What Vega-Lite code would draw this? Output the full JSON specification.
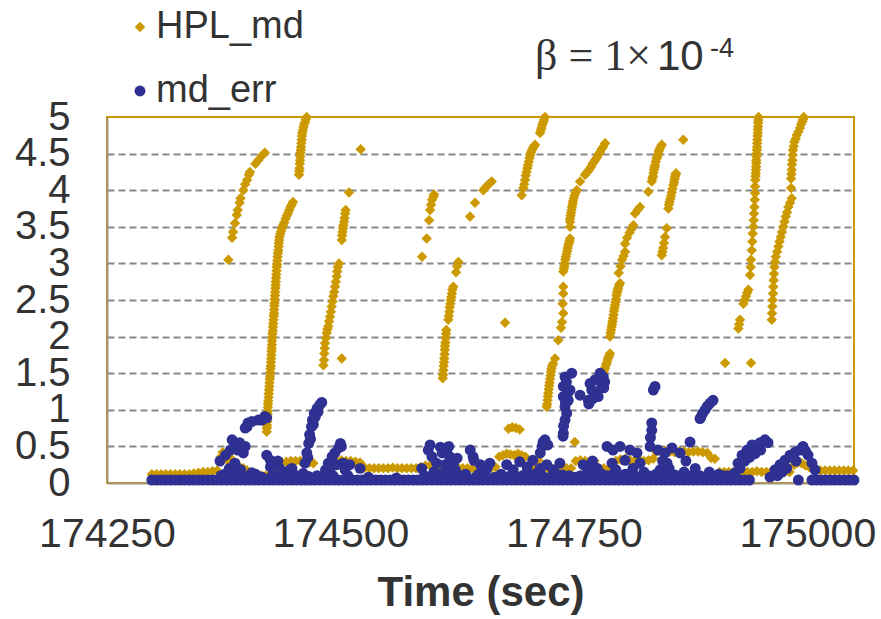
{
"$schema": "https://vega.github.io/schema/vega-lite/v6.json",
"width": 747, "height": 366,
"autosize": {"type": "none"},
"padding": {"left": 107, "top": 117, "right": 27, "bottom": 136},
"background": "white",
"config": {"view": {"stroke": "#CC9900", "strokeWidth": 2}, "font": "Liberation Sans"},
"encoding": {
 "x": {"field": "t", "type": "quantitative", "title": "Time (sec)",
  "scale": {"domain": [174250, 175050], "nice": false, "zero": false},
  "axis": {"values": [174250, 174500, 174750, 175000], "format": "d", "grid": false, "ticks": false, "tickSize": 0,
   "labelFont": "Liberation Sans", "labelFontSize": 41, "labelColor": "#333333", "labelPadding": 31, "labelFlush": false, "labelOverlap": false,
   "domainColor": "#A0957A", "domainWidth": 2,
   "titleFont": "Liberation Sans", "titleFontSize": 42, "titleFontWeight": "bold", "titleColor": "#333333", "titlePadding": 18}},
 "y": {"field": "value", "type": "quantitative", "title": null,
  "scale": {"domain": [0, 5], "nice": false, "zero": true},
  "axis": {"values": [0, 0.5, 1, 1.5, 2, 2.5, 3, 3.5, 4, 4.5, 5], "format": "~g", "ticks": false, "tickSize": 0,
   "labelFont": "Liberation Sans", "labelFontSize": 40, "labelColor": "#333333", "labelPadding": 37, "labelOverlap": false,
   "domainColor": "#A0957A", "domainWidth": 2,
   "grid": true, "gridColor": "#888888", "gridWidth": 2, "gridDash": [7, 4],
   "gridOpacity": {"condition": {"test": "datum.value == 0 || datum.value == 5", "value": 0}, "value": 1}}}
},
"layer": [
{
 "data": {"values": [
{"t":174380,"HPL_md":3.05},{"t":174384,"HPL_md":3.35},{"t":174385,"HPL_md":3.43},{"t":174387,"HPL_md":3.55},{"t":174389,"HPL_md":3.66},{"t":174390,"HPL_md":3.73},{"t":174392,"HPL_md":3.83},{"t":174393,"HPL_md":3.89},{"t":174396,"HPL_md":4.0},{"t":174398,"HPL_md":4.08},{"t":174400,"HPL_md":4.14},{"t":174402,"HPL_md":4.21},{"t":174403,"HPL_md":4.25},{"t":174409,"HPL_md":4.36},{"t":174412,"HPL_md":4.41},{"t":174416,"HPL_md":4.47},{"t":174419,"HPL_md":4.51},
{"t":174421.0,"HPL_md":0.70},{"t":174421.2,"HPL_md":0.75},{"t":174421.4,"HPL_md":0.79},{"t":174421.6,"HPL_md":0.84},{"t":174421.7,"HPL_md":0.89},{"t":174421.9,"HPL_md":0.94},{"t":174422.1,"HPL_md":0.98},{"t":174422.3,"HPL_md":1.03},{"t":174422.4,"HPL_md":1.08},{"t":174422.7,"HPL_md":1.12},{"t":174423.0,"HPL_md":1.17},{"t":174423.3,"HPL_md":1.22},{"t":174423.5,"HPL_md":1.27},{"t":174423.8,"HPL_md":1.32},{"t":174424.0,"HPL_md":1.37},{"t":174424.3,"HPL_md":1.42},{"t":174424.6,"HPL_md":1.46},{"t":174424.9,"HPL_md":1.51},{"t":174425.1,"HPL_md":1.56},{"t":174425.4,"HPL_md":1.60},{"t":174425.6,"HPL_md":1.65},{"t":174425.8,"HPL_md":1.70},{"t":174426.0,"HPL_md":1.75},{"t":174426.2,"HPL_md":1.80},{"t":174426.4,"HPL_md":1.84},{"t":174426.6,"HPL_md":1.89},{"t":174426.7,"HPL_md":1.94},{"t":174427.0,"HPL_md":1.99},{"t":174427.2,"HPL_md":2.04},{"t":174427.5,"HPL_md":2.08},{"t":174427.8,"HPL_md":2.13},{"t":174428.0,"HPL_md":2.18},{"t":174428.3,"HPL_md":2.23},{"t":174428.6,"HPL_md":2.28},{"t":174428.9,"HPL_md":2.32},{"t":174429.0,"HPL_md":2.37},{"t":174429.2,"HPL_md":2.42},{"t":174429.4,"HPL_md":2.46},{"t":174429.6,"HPL_md":2.51},{"t":174429.9,"HPL_md":2.56},{"t":174430.1,"HPL_md":2.61},{"t":174430.4,"HPL_md":2.66},{"t":174430.6,"HPL_md":2.70},{"t":174430.8,"HPL_md":2.75},{"t":174431.0,"HPL_md":2.80},{"t":174431.3,"HPL_md":2.85},{"t":174431.5,"HPL_md":2.90},{"t":174431.8,"HPL_md":2.95},{"t":174432.1,"HPL_md":2.99},{"t":174432.4,"HPL_md":3.04},{"t":174432.6,"HPL_md":3.09},{"t":174433.0,"HPL_md":3.14},{"t":174433.5,"HPL_md":3.18},{"t":174433.8,"HPL_md":3.23},{"t":174434.0,"HPL_md":3.28},{"t":174434.4,"HPL_md":3.32},{"t":174434.7,"HPL_md":3.36},{"t":174435.5,"HPL_md":3.40},{"t":174436.4,"HPL_md":3.44},{"t":174437.4,"HPL_md":3.48},{"t":174438.5,"HPL_md":3.52},{"t":174439.8,"HPL_md":3.56},{"t":174441.2,"HPL_md":3.61},{"t":174442.5,"HPL_md":3.65},{"t":174443.9,"HPL_md":3.69},{"t":174445.2,"HPL_md":3.73},{"t":174446.5,"HPL_md":3.77},{"t":174447.8,"HPL_md":3.80},{"t":174449.2,"HPL_md":3.84},
{"t":174455.6,"HPL_md":4.21},{"t":174455.9,"HPL_md":4.26},{"t":174456.2,"HPL_md":4.30},{"t":174456.4,"HPL_md":4.36},{"t":174456.7,"HPL_md":4.41},{"t":174457.0,"HPL_md":4.46},{"t":174457.2,"HPL_md":4.51},{"t":174457.5,"HPL_md":4.55},{"t":174457.8,"HPL_md":4.59},{"t":174458.1,"HPL_md":4.64},{"t":174458.5,"HPL_md":4.69},{"t":174458.8,"HPL_md":4.74},{"t":174459.1,"HPL_md":4.78},{"t":174459.7,"HPL_md":4.82},{"t":174460.4,"HPL_md":4.86},{"t":174461.2,"HPL_md":4.90},{"t":174462.1,"HPL_md":4.93},{"t":174463.0,"HPL_md":4.97},{"t":174463.9,"HPL_md":5.0},
{"t":174481.7,"HPL_md":1.61},{"t":174482.4,"HPL_md":1.68},{"t":174482.7,"HPL_md":1.77},{"t":174483.1,"HPL_md":1.84},{"t":174483.5,"HPL_md":1.91},{"t":174484.4,"HPL_md":1.98},{"t":174485.3,"HPL_md":2.05},{"t":174486.1,"HPL_md":2.10},{"t":174487.0,"HPL_md":2.14},{"t":174487.8,"HPL_md":2.21},{"t":174488.8,"HPL_md":2.27},{"t":174489.7,"HPL_md":2.34},{"t":174490.6,"HPL_md":2.41},{"t":174491.5,"HPL_md":2.48},{"t":174492.4,"HPL_md":2.55},{"t":174493.3,"HPL_md":2.61},{"t":174494.2,"HPL_md":2.68},{"t":174495.0,"HPL_md":2.75},{"t":174496.0,"HPL_md":2.82},{"t":174496.5,"HPL_md":2.89},{"t":174497.1,"HPL_md":2.95},{"t":174498.5,"HPL_md":3.0},
{"t":174501.4,"HPL_md":1.70},{"t":174501.4,"HPL_md":3.32},{"t":174501.8,"HPL_md":3.38},{"t":174502.2,"HPL_md":3.43},{"t":174502.8,"HPL_md":3.48},{"t":174503.3,"HPL_md":3.52},{"t":174503.9,"HPL_md":3.57},{"t":174504.4,"HPL_md":3.62},{"t":174505.0,"HPL_md":3.68},{"t":174505.6,"HPL_md":3.73},{"t":174509.2,"HPL_md":3.97},{"t":174521.7,"HPL_md":4.56},
{"t":174587.4,"HPL_md":3.09},{"t":174592.4,"HPL_md":3.34},{"t":174594.9,"HPL_md":3.59},{"t":174596.0,"HPL_md":3.73},{"t":174597.0,"HPL_md":3.80},{"t":174598.1,"HPL_md":3.87},{"t":174599.5,"HPL_md":3.91},{"t":174600.2,"HPL_md":3.94},
{"t":174609.5,"HPL_md":1.43},{"t":174609.9,"HPL_md":1.48},{"t":174610.2,"HPL_md":1.54},{"t":174610.5,"HPL_md":1.60},{"t":174610.9,"HPL_md":1.65},{"t":174611.2,"HPL_md":1.70},{"t":174611.5,"HPL_md":1.76},{"t":174611.8,"HPL_md":1.82},{"t":174612.0,"HPL_md":1.87},{"t":174612.4,"HPL_md":1.92},{"t":174612.8,"HPL_md":1.98},{"t":174613.1,"HPL_md":2.04},{"t":174613.4,"HPL_md":2.09},{"t":174615.5,"HPL_md":2.23},{"t":174616.0,"HPL_md":2.28},{"t":174616.6,"HPL_md":2.34},{"t":174617.1,"HPL_md":2.40},{"t":174617.7,"HPL_md":2.45},{"t":174618.2,"HPL_md":2.50},{"t":174618.8,"HPL_md":2.54},{"t":174619.3,"HPL_md":2.59},{"t":174619.8,"HPL_md":2.64},{"t":174620.9,"HPL_md":2.68},{"t":174623.8,"HPL_md":2.88},{"t":174624.9,"HPL_md":2.96},{"t":174626.3,"HPL_md":3.02},
{"t":174638.8,"HPL_md":3.64},{"t":174644.1,"HPL_md":3.83},{"t":174653,"HPL_md":4.0},{"t":174655,"HPL_md":4.03},{"t":174657,"HPL_md":4.06},{"t":174659.5,"HPL_md":4.09},{"t":174662,"HPL_md":4.12},{"t":174676.3,"HPL_md":2.19},{"t":174694.1,"HPL_md":3.93},
{"t":174695.9,"HPL_md":4.03},{"t":174696.8,"HPL_md":4.08},{"t":174697.7,"HPL_md":4.14},{"t":174698.5,"HPL_md":4.20},{"t":174699.3,"HPL_md":4.25},{"t":174700.1,"HPL_md":4.30},{"t":174700.9,"HPL_md":4.34},{"t":174701.7,"HPL_md":4.39},{"t":174702.5,"HPL_md":4.44},{"t":174703.3,"HPL_md":4.48},{"t":174704.1,"HPL_md":4.52},{"t":174705.2,"HPL_md":4.55},{"t":174706.3,"HPL_md":4.58},{"t":174707.3,"HPL_md":4.60},{"t":174708.4,"HPL_md":4.62},
{"t":174713.7,"HPL_md":4.78},{"t":174714.5,"HPL_md":4.82},{"t":174715.3,"HPL_md":4.85},{"t":174716.1,"HPL_md":4.89},{"t":174717.0,"HPL_md":4.92},{"t":174718.0,"HPL_md":4.96},{"t":174719.1,"HPL_md":5.0},
{"t":174720.9,"HPL_md":1.04},{"t":174721.4,"HPL_md":1.08},{"t":174721.8,"HPL_md":1.13},{"t":174722.2,"HPL_md":1.18},{"t":174722.6,"HPL_md":1.23},{"t":174723.1,"HPL_md":1.28},{"t":174723.6,"HPL_md":1.33},{"t":174724.0,"HPL_md":1.37},{"t":174724.5,"HPL_md":1.42},{"t":174725.0,"HPL_md":1.47},{"t":174725.5,"HPL_md":1.52},{"t":174726.0,"HPL_md":1.56},{"t":174726.6,"HPL_md":1.60},{"t":174727.7,"HPL_md":1.63},{"t":174729.8,"HPL_md":1.70},
{"t":174733.3,"HPL_md":1.95},{"t":174736.2,"HPL_md":2.12},{"t":174737.3,"HPL_md":2.20},{"t":174738.7,"HPL_md":2.32},{"t":174738.0,"HPL_md":2.45},{"t":174738.7,"HPL_md":2.59},{"t":174738.7,"HPL_md":2.68},
{"t":174738.7,"HPL_md":2.89},{"t":174739.3,"HPL_md":2.93},{"t":174739.8,"HPL_md":2.96},{"t":174740.3,"HPL_md":3.0},{"t":174740.8,"HPL_md":3.05},{"t":174741.5,"HPL_md":3.09},{"t":174742.1,"HPL_md":3.13},{"t":174742.8,"HPL_md":3.17},{"t":174743.4,"HPL_md":3.21},{"t":174744.1,"HPL_md":3.25},{"t":174744.8,"HPL_md":3.28},{"t":174745.4,"HPL_md":3.31},{"t":174745.9,"HPL_md":3.34},{"t":174745.9,"HPL_md":3.50},{"t":174745.9,"HPL_md":3.57},
{"t":174745.9,"HPL_md":3.61},{"t":174746.5,"HPL_md":3.65},{"t":174747.0,"HPL_md":3.69},{"t":174747.5,"HPL_md":3.73},{"t":174748.0,"HPL_md":3.77},{"t":174748.6,"HPL_md":3.81},{"t":174749.1,"HPL_md":3.85},{"t":174749.9,"HPL_md":3.89},{"t":174750.7,"HPL_md":3.93},{"t":174751.9,"HPL_md":3.97},{"t":174753.1,"HPL_md":4.0},{"t":174756.6,"HPL_md":4.12},
{"t":174762.0,"HPL_md":4.21},{"t":174763.6,"HPL_md":4.24},{"t":174765.2,"HPL_md":4.26},{"t":174766.8,"HPL_md":4.29},{"t":174768.4,"HPL_md":4.32},{"t":174770.0,"HPL_md":4.36},{"t":174771.6,"HPL_md":4.39},{"t":174773.2,"HPL_md":4.42},{"t":174774.8,"HPL_md":4.45},{"t":174776.4,"HPL_md":4.49},{"t":174778.0,"HPL_md":4.52},{"t":174779.6,"HPL_md":4.56},{"t":174781.2,"HPL_md":4.59},{"t":174783.4,"HPL_md":4.64},
{"t":174781.5,"HPL_md":1.50},{"t":174782.4,"HPL_md":1.54},{"t":174783.4,"HPL_md":1.57},{"t":174784.3,"HPL_md":1.61},{"t":174785.2,"HPL_md":1.64},{"t":174786.0,"HPL_md":1.68},{"t":174786.9,"HPL_md":1.71},{"t":174787.8,"HPL_md":1.74},{"t":174788.7,"HPL_md":1.77},
{"t":174788.7,"HPL_md":2.0},{"t":174789.3,"HPL_md":2.05},{"t":174789.8,"HPL_md":2.09},{"t":174790.4,"HPL_md":2.13},{"t":174790.9,"HPL_md":2.17},{"t":174791.4,"HPL_md":2.21},{"t":174791.9,"HPL_md":2.25},{"t":174792.5,"HPL_md":2.30},{"t":174793.0,"HPL_md":2.35},{"t":174793.5,"HPL_md":2.39},{"t":174794.1,"HPL_md":2.43},{"t":174794.6,"HPL_md":2.47},{"t":174795.1,"HPL_md":2.51},{"t":174795.7,"HPL_md":2.56},{"t":174796.2,"HPL_md":2.60},{"t":174796.8,"HPL_md":2.63},{"t":174797.3,"HPL_md":2.66},{"t":174798.3,"HPL_md":2.70},{"t":174799.4,"HPL_md":2.73},
{"t":174798.0,"HPL_md":2.87},{"t":174800.0,"HPL_md":2.96},{"t":174801.6,"HPL_md":3.05},{"t":174803.2,"HPL_md":3.10},{"t":174804.8,"HPL_md":3.16},{"t":174804.8,"HPL_md":3.27},{"t":174806.9,"HPL_md":3.35},{"t":174809.6,"HPL_md":3.42},{"t":174811.8,"HPL_md":3.47},{"t":174813.7,"HPL_md":3.52},{"t":174815.5,"HPL_md":3.68},{"t":174818.2,"HPL_md":3.73},{"t":174820.8,"HPL_md":3.77},{"t":174829.7,"HPL_md":3.98},
{"t":174833.4,"HPL_md":4.12},{"t":174834.1,"HPL_md":4.16},{"t":174834.8,"HPL_md":4.19},{"t":174835.3,"HPL_md":4.24},{"t":174835.8,"HPL_md":4.28},{"t":174836.4,"HPL_md":4.31},{"t":174836.9,"HPL_md":4.34},{"t":174837.7,"HPL_md":4.39},{"t":174838.5,"HPL_md":4.43},{"t":174839.3,"HPL_md":4.46},{"t":174840.1,"HPL_md":4.49},{"t":174840.9,"HPL_md":4.53},{"t":174841.7,"HPL_md":4.56},{"t":174842.9,"HPL_md":4.59},{"t":174844.1,"HPL_md":4.62},{"t":174867.2,"HPL_md":4.69},
{"t":174851.2,"HPL_md":3.75},{"t":174851.8,"HPL_md":3.80},{"t":174852.4,"HPL_md":3.84},{"t":174853.2,"HPL_md":3.88},{"t":174854.0,"HPL_md":3.92},{"t":174854.8,"HPL_md":3.97},{"t":174855.6,"HPL_md":4.02},{"t":174856.5,"HPL_md":4.07},{"t":174857.3,"HPL_md":4.11},{"t":174857.8,"HPL_md":4.15},{"t":174858.3,"HPL_md":4.18},{"t":174858.9,"HPL_md":4.21},{"t":174859.4,"HPL_md":4.23},
{"t":174849.4,"HPL_md":3.48},{"t":174844.1,"HPL_md":3.11},{"t":174844.8,"HPL_md":3.16},{"t":174845.5,"HPL_md":3.21},{"t":174846.5,"HPL_md":3.28},{"t":174847.6,"HPL_md":3.36},
{"t":174911.9,"HPL_md":1.64},{"t":174939.7,"HPL_md":1.64},{"t":174926.1,"HPL_md":2.11},{"t":174927.0,"HPL_md":2.17},{"t":174927.9,"HPL_md":2.23},{"t":174931.5,"HPL_md":2.45},{"t":174933.0,"HPL_md":2.50},{"t":174934.4,"HPL_md":2.55},{"t":174935.6,"HPL_md":2.60},{"t":174936.8,"HPL_md":2.64},
{"t":174938.7,"HPL_md":2.84},{"t":174939.4,"HPL_md":2.95},{"t":174939.7,"HPL_md":3.05},{"t":174940.5,"HPL_md":3.18},{"t":174941.1,"HPL_md":3.30},{"t":174941.5,"HPL_md":3.41},{"t":174942.2,"HPL_md":3.50},{"t":174942.6,"HPL_md":3.59},{"t":174942.9,"HPL_md":3.68},{"t":174943.3,"HPL_md":3.77},{"t":174943.7,"HPL_md":3.87},{"t":174944.0,"HPL_md":3.96},{"t":174944.0,"HPL_md":4.05},{"t":174944.3,"HPL_md":4.14},{"t":174944.5,"HPL_md":4.19},{"t":174944.8,"HPL_md":4.23},{"t":174945.0,"HPL_md":4.28},{"t":174945.1,"HPL_md":4.32},{"t":174945.3,"HPL_md":4.37},{"t":174945.4,"HPL_md":4.41},{"t":174945.6,"HPL_md":4.46},{"t":174945.8,"HPL_md":4.50},{"t":174946.0,"HPL_md":4.55},{"t":174946.1,"HPL_md":4.59},{"t":174946.3,"HPL_md":4.64},{"t":174946.5,"HPL_md":4.69},{"t":174946.7,"HPL_md":4.74},{"t":174946.9,"HPL_md":4.78},{"t":174947.0,"HPL_md":4.83},{"t":174947.2,"HPL_md":4.87},{"t":174947.4,"HPL_md":4.92},{"t":174947.5,"HPL_md":4.96},{"t":174947.8,"HPL_md":5.0},
{"t":174961.9,"HPL_md":2.23},{"t":174962.2,"HPL_md":2.32},{"t":174962.5,"HPL_md":2.41},{"t":174962.9,"HPL_md":2.50},{"t":174963.3,"HPL_md":2.59},{"t":174963.6,"HPL_md":2.68},{"t":174964.0,"HPL_md":2.77},{"t":174964.3,"HPL_md":2.86},{"t":174964.7,"HPL_md":2.95},{"t":174965.4,"HPL_md":3.02},{"t":174966.2,"HPL_md":3.09},{"t":174967.6,"HPL_md":3.16},{"t":174969.0,"HPL_md":3.23},{"t":174970.2,"HPL_md":3.30},{"t":174971.5,"HPL_md":3.36},{"t":174972.9,"HPL_md":3.43},{"t":174974.4,"HPL_md":3.50},{"t":174975.6,"HPL_md":3.57},{"t":174976.9,"HPL_md":3.64},{"t":174978.3,"HPL_md":3.70},{"t":174979.7,"HPL_md":3.77},{"t":174981.5,"HPL_md":3.83},{"t":174983.3,"HPL_md":3.89},{"t":174982.6,"HPL_md":4.03},
{"t":174982.6,"HPL_md":4.16},{"t":174983.0,"HPL_md":4.22},{"t":174983.3,"HPL_md":4.28},{"t":174983.6,"HPL_md":4.35},{"t":174984.0,"HPL_md":4.41},{"t":174984.3,"HPL_md":4.48},{"t":174984.7,"HPL_md":4.55},{"t":174985.4,"HPL_md":4.60},{"t":174986.1,"HPL_md":4.66},{"t":174987.4,"HPL_md":4.70},{"t":174988.7,"HPL_md":4.75},{"t":174990.4,"HPL_md":4.80},{"t":174992.2,"HPL_md":4.85},{"t":174993.4,"HPL_md":4.90},{"t":174994.7,"HPL_md":4.94},{"t":174995.5,"HPL_md":4.97},{"t":174996.2,"HPL_md":5.0},
{"t":174298,"HPL_md":0.12},{"t":174303,"HPL_md":0.12},{"t":174308,"HPL_md":0.12},{"t":174313,"HPL_md":0.12},{"t":174318,"HPL_md":0.12},{"t":174323,"HPL_md":0.12},{"t":174328,"HPL_md":0.12},{"t":174333,"HPL_md":0.12},{"t":174338,"HPL_md":0.12},{"t":174343,"HPL_md":0.13},{"t":174348,"HPL_md":0.14},{"t":174353,"HPL_md":0.15},{"t":174358,"HPL_md":0.15},{"t":174363,"HPL_md":0.16},{"t":174368,"HPL_md":0.17},
{"t":174372,"HPL_md":0.36},{"t":174374,"HPL_md":0.42},{"t":174377,"HPL_md":0.34},{"t":174380,"HPL_md":0.30},{"t":174383,"HPL_md":0.33},{"t":174386,"HPL_md":0.28},{"t":174389,"HPL_md":0.25},{"t":174392,"HPL_md":0.22},{"t":174396,"HPL_md":0.20},{"t":174400,"HPL_md":0.17},{"t":174404,"HPL_md":0.14},{"t":174408,"HPL_md":0.12},{"t":174412,"HPL_md":0.11},{"t":174416,"HPL_md":0.10},{"t":174420,"HPL_md":0.10},{"t":174425,"HPL_md":0.12},{"t":174430,"HPL_md":0.12},
{"t":174437,"HPL_md":0.28},{"t":174442,"HPL_md":0.29},{"t":174447,"HPL_md":0.30},{"t":174452,"HPL_md":0.30},{"t":174457,"HPL_md":0.30},{"t":174462,"HPL_md":0.29},{"t":174467,"HPL_md":0.28},{"t":174471,"HPL_md":0.27},
{"t":174496,"HPL_md":0.30},{"t":174501,"HPL_md":0.31},{"t":174506,"HPL_md":0.30},{"t":174511,"HPL_md":0.30},{"t":174516,"HPL_md":0.29},{"t":174521,"HPL_md":0.28},
{"t":174526,"HPL_md":0.21},{"t":174531,"HPL_md":0.20},{"t":174536,"HPL_md":0.20},{"t":174541,"HPL_md":0.20},{"t":174546,"HPL_md":0.20},{"t":174551,"HPL_md":0.20},{"t":174556,"HPL_md":0.21},{"t":174561,"HPL_md":0.20},{"t":174566,"HPL_md":0.20},{"t":174571,"HPL_md":0.20},{"t":174576,"HPL_md":0.20},{"t":174581,"HPL_md":0.20},{"t":174586,"HPL_md":0.22},{"t":174591,"HPL_md":0.24},{"t":174596,"HPL_md":0.24},{"t":174601,"HPL_md":0.23},{"t":174606,"HPL_md":0.22},
{"t":174611,"HPL_md":0.20},{"t":174616,"HPL_md":0.20},{"t":174621,"HPL_md":0.20},{"t":174626,"HPL_md":0.21},{"t":174631,"HPL_md":0.20},{"t":174636,"HPL_md":0.20},{"t":174641,"HPL_md":0.20},{"t":174646,"HPL_md":0.21},{"t":174651,"HPL_md":0.20},{"t":174656,"HPL_md":0.20},{"t":174661,"HPL_md":0.20},{"t":174666,"HPL_md":0.22},
{"t":174670,"HPL_md":0.36},{"t":174674,"HPL_md":0.38},{"t":174678,"HPL_md":0.40},{"t":174682,"HPL_md":0.39},{"t":174686,"HPL_md":0.38},{"t":174690,"HPL_md":0.40},{"t":174694,"HPL_md":0.38},{"t":174698,"HPL_md":0.36},
{"t":174680,"HPL_md":0.74},{"t":174684,"HPL_md":0.76},{"t":174688,"HPL_md":0.75},{"t":174692,"HPL_md":0.73},
{"t":174703,"HPL_md":0.20},{"t":174708,"HPL_md":0.20},{"t":174712,"HPL_md":0.31},{"t":174717,"HPL_md":0.20},{"t":174722,"HPL_md":0.20},{"t":174727,"HPL_md":0.19},{"t":174732,"HPL_md":0.20},{"t":174737,"HPL_md":0.20},{"t":174742,"HPL_md":0.20},{"t":174747,"HPL_md":0.20},{"t":174751,"HPL_md":0.56},
{"t":174752,"HPL_md":0.30},{"t":174757,"HPL_md":0.31},{"t":174762,"HPL_md":0.30},{"t":174767,"HPL_md":0.29},{"t":174772,"HPL_md":0.30},{"t":174777,"HPL_md":0.20},{"t":174782,"HPL_md":0.20},{"t":174787,"HPL_md":0.20},
{"t":174795,"HPL_md":0.30},{"t":174800,"HPL_md":0.32},{"t":174805,"HPL_md":0.33},{"t":174810,"HPL_md":0.31},{"t":174815,"HPL_md":0.30},{"t":174820,"HPL_md":0.32},{"t":174825,"HPL_md":0.30},{"t":174830,"HPL_md":0.31},{"t":174835,"HPL_md":0.33},
{"t":174838,"HPL_md":0.43},{"t":174843,"HPL_md":0.43},{"t":174848,"HPL_md":0.44},{"t":174853,"HPL_md":0.43},{"t":174858,"HPL_md":0.42},{"t":174863,"HPL_md":0.43},{"t":174868,"HPL_md":0.43},{"t":174873,"HPL_md":0.42},{"t":174878,"HPL_md":0.43},{"t":174883,"HPL_md":0.43},{"t":174888,"HPL_md":0.42},{"t":174893,"HPL_md":0.41},{"t":174897,"HPL_md":0.34},{"t":174901,"HPL_md":0.33},
{"t":174906,"HPL_md":0.15},{"t":174911,"HPL_md":0.15},{"t":174916,"HPL_md":0.15},{"t":174921,"HPL_md":0.15},{"t":174926,"HPL_md":0.16},{"t":174931,"HPL_md":0.15},{"t":174936,"HPL_md":0.15},{"t":174941,"HPL_md":0.15},{"t":174946,"HPL_md":0.16},{"t":174951,"HPL_md":0.15},{"t":174956,"HPL_md":0.15},{"t":174961,"HPL_md":0.15},{"t":174966,"HPL_md":0.15},{"t":174971,"HPL_md":0.15},{"t":174976,"HPL_md":0.16},{"t":174981,"HPL_md":0.15},
{"t":174986,"HPL_md":0.25},{"t":174990,"HPL_md":0.28},{"t":174994,"HPL_md":0.27},{"t":174998,"HPL_md":0.24},{"t":175002,"HPL_md":0.22},{"t":175006,"HPL_md":0.20},{"t":175010,"HPL_md":0.18},
{"t":175014,"HPL_md":0.17},{"t":175019,"HPL_md":0.17},{"t":175024,"HPL_md":0.17},{"t":175029,"HPL_md":0.17},{"t":175034,"HPL_md":0.17},{"t":175039,"HPL_md":0.17},{"t":175044,"HPL_md":0.17},{"t":175049,"HPL_md":0.17},
{"t":174298,"md_err":0.04},{"t":174303,"md_err":0.04},{"t":174308,"md_err":0.04},{"t":174313,"md_err":0.04},{"t":174318,"md_err":0.04},{"t":174323,"md_err":0.04},{"t":174328,"md_err":0.04},{"t":174333,"md_err":0.04},{"t":174338,"md_err":0.04},{"t":174343,"md_err":0.04},{"t":174348,"md_err":0.04},{"t":174353,"md_err":0.04},{"t":174358,"md_err":0.04},{"t":174363,"md_err":0.04},{"t":174368,"md_err":0.04},{"t":174373,"md_err":0.04},{"t":174378,"md_err":0.04},{"t":174383,"md_err":0.04},{"t":174388,"md_err":0.04},{"t":174393,"md_err":0.04},{"t":174398,"md_err":0.04},{"t":174403,"md_err":0.04},{"t":174408,"md_err":0.04},{"t":174413,"md_err":0.04},{"t":174418,"md_err":0.04},{"t":174423,"md_err":0.04},{"t":174428,"md_err":0.04},{"t":174433,"md_err":0.04},{"t":174438,"md_err":0.04},{"t":174443,"md_err":0.04},{"t":174448,"md_err":0.04},{"t":174453,"md_err":0.04},{"t":174458,"md_err":0.04},{"t":174463,"md_err":0.04},{"t":174468,"md_err":0.04},{"t":174473,"md_err":0.04},{"t":174478,"md_err":0.04},{"t":174483,"md_err":0.04},{"t":174488,"md_err":0.04},{"t":174493,"md_err":0.04},{"t":174498,"md_err":0.04},{"t":174503,"md_err":0.04},{"t":174508,"md_err":0.04},{"t":174513,"md_err":0.04},{"t":174518,"md_err":0.04},{"t":174523,"md_err":0.04},{"t":174528,"md_err":0.04},{"t":174533,"md_err":0.04},{"t":174538,"md_err":0.04},{"t":174543,"md_err":0.04},{"t":174548,"md_err":0.04},{"t":174553,"md_err":0.04},{"t":174558,"md_err":0.04},{"t":174563,"md_err":0.04},{"t":174568,"md_err":0.04},{"t":174573,"md_err":0.04},{"t":174578,"md_err":0.04},{"t":174583,"md_err":0.04},{"t":174588,"md_err":0.04},{"t":174593,"md_err":0.04},{"t":174598,"md_err":0.04},{"t":174603,"md_err":0.04},{"t":174608,"md_err":0.04},{"t":174613,"md_err":0.04},{"t":174618,"md_err":0.04},{"t":174623,"md_err":0.04},{"t":174628,"md_err":0.04},{"t":174633,"md_err":0.04},{"t":174638,"md_err":0.04},{"t":174643,"md_err":0.04},{"t":174648,"md_err":0.04},{"t":174653,"md_err":0.04},{"t":174658,"md_err":0.04},{"t":174663,"md_err":0.04},{"t":174668,"md_err":0.04},{"t":174673,"md_err":0.04},{"t":174678,"md_err":0.04},{"t":174683,"md_err":0.04},{"t":174688,"md_err":0.04},{"t":174693,"md_err":0.04},{"t":174698,"md_err":0.04},{"t":174703,"md_err":0.04},{"t":174708,"md_err":0.04},{"t":174713,"md_err":0.04},{"t":174718,"md_err":0.04},{"t":174723,"md_err":0.04},{"t":174728,"md_err":0.04},{"t":174733,"md_err":0.04},{"t":174738,"md_err":0.04},{"t":174743,"md_err":0.04},{"t":174748,"md_err":0.04},{"t":174753,"md_err":0.04},{"t":174758,"md_err":0.04},{"t":174763,"md_err":0.04},{"t":174768,"md_err":0.04},{"t":174773,"md_err":0.04},{"t":174778,"md_err":0.04},{"t":174783,"md_err":0.04},{"t":174788,"md_err":0.04},{"t":174793,"md_err":0.04},{"t":174798,"md_err":0.04},{"t":174803,"md_err":0.04},{"t":174808,"md_err":0.04},{"t":174813,"md_err":0.04},{"t":174818,"md_err":0.04},{"t":174823,"md_err":0.04},{"t":174828,"md_err":0.04},{"t":174833,"md_err":0.04},{"t":174838,"md_err":0.04},{"t":174843,"md_err":0.04},{"t":174848,"md_err":0.04},{"t":174853,"md_err":0.04},{"t":174858,"md_err":0.04},{"t":174863,"md_err":0.04},{"t":174868,"md_err":0.04},{"t":174873,"md_err":0.04},{"t":174878,"md_err":0.04},{"t":174883,"md_err":0.04},{"t":174888,"md_err":0.04},{"t":174893,"md_err":0.04},{"t":174898,"md_err":0.04},{"t":174903,"md_err":0.04},{"t":174908,"md_err":0.04},{"t":174913,"md_err":0.04},{"t":174918,"md_err":0.04},{"t":174923,"md_err":0.04},{"t":174928,"md_err":0.04},{"t":174933,"md_err":0.04},{"t":174938,"md_err":0.04},
{"t":175005,"md_err":0.04},{"t":175010,"md_err":0.04},{"t":175015,"md_err":0.04},{"t":175020,"md_err":0.04},{"t":175025,"md_err":0.04},{"t":175030,"md_err":0.04},{"t":175035,"md_err":0.04},{"t":175040,"md_err":0.04},{"t":175045,"md_err":0.04},{"t":175050,"md_err":0.04},
{"t":174372,"md_err":0.10},{"t":174379,"md_err":0.08},{"t":174386,"md_err":0.12},{"t":174395,"md_err":0.08},{"t":174402,"md_err":0.10},{"t":174409,"md_err":0.12},{"t":174416,"md_err":0.08},{"t":174427,"md_err":0.10},{"t":174434,"md_err":0.08},{"t":174441,"md_err":0.10},{"t":174450,"md_err":0.12},{"t":174457,"md_err":0.08},{"t":174475,"md_err":0.10},{"t":174492,"md_err":0.10},{"t":174508,"md_err":0.10},
{"t":174590,"md_err":0.10},{"t":174597,"md_err":0.08},{"t":174605,"md_err":0.10},{"t":174611,"md_err":0.08},{"t":174627,"md_err":0.10},{"t":174634,"md_err":0.12},{"t":174645,"md_err":0.08},{"t":174655,"md_err":0.10},{"t":174665,"md_err":0.08},{"t":174672,"md_err":0.12},{"t":174682,"md_err":0.10},{"t":174690,"md_err":0.08},{"t":174698,"md_err":0.12},{"t":174708,"md_err":0.08},{"t":174716,"md_err":0.10},{"t":174725,"md_err":0.08},{"t":174731,"md_err":0.12},{"t":174745,"md_err":0.10},{"t":174752,"md_err":0.08},{"t":174762,"md_err":0.10},{"t":174772,"md_err":0.08},{"t":174785,"md_err":0.10},{"t":174792,"md_err":0.12},{"t":174800,"md_err":0.08},{"t":174805,"md_err":0.12},{"t":174815,"md_err":0.10},{"t":174822,"md_err":0.08},{"t":174830,"md_err":0.10},{"t":174838,"md_err":0.12},{"t":174846,"md_err":0.08},{"t":174853,"md_err":0.10},{"t":174862,"md_err":0.08},{"t":174885,"md_err":0.10},{"t":174900,"md_err":0.08},{"t":174910,"md_err":0.10},{"t":174920,"md_err":0.08},
{"t":174371,"md_err":0.30},{"t":174377,"md_err":0.38},{"t":174382,"md_err":0.45},{"t":174384,"md_err":0.59},{"t":174387,"md_err":0.50},{"t":174390,"md_err":0.45},{"t":174392,"md_err":0.55},{"t":174396,"md_err":0.41},{"t":174398,"md_err":0.50},{"t":174387,"md_err":0.27},{"t":174393,"md_err":0.18},{"t":174405,"md_err":0.14},{"t":174412,"md_err":0.09},{"t":174381,"md_err":0.20},{"t":174376,"md_err":0.12},{"t":174390,"md_err":0.10},
{"t":174398,"md_err":0.75},{"t":174400,"md_err":0.77},{"t":174401,"md_err":0.82},{"t":174405,"md_err":0.84},{"t":174412,"md_err":0.86},{"t":174416,"md_err":0.86},{"t":174419,"md_err":0.91},{"t":174421,"md_err":0.89},
{"t":174421,"md_err":0.38},{"t":174425,"md_err":0.31},{"t":174430,"md_err":0.27},{"t":174435,"md_err":0.20},{"t":174443,"md_err":0.15},{"t":174446,"md_err":0.18},{"t":174448,"md_err":0.20},{"t":174453,"md_err":0.09},{"t":174425,"md_err":0.22},{"t":174433,"md_err":0.30},{"t":174438,"md_err":0.12},
{"t":174460,"md_err":0.13},{"t":174462,"md_err":0.27},{"t":174464,"md_err":0.41},{"t":174466,"md_err":0.54},{"t":174467,"md_err":0.66},{"t":174469,"md_err":0.77},{"t":174470,"md_err":0.86},{"t":174472,"md_err":0.95},{"t":174475,"md_err":1.02},{"t":174478,"md_err":1.07},{"t":174480,"md_err":1.10},{"t":174466,"md_err":0.09},{"t":174465,"md_err":0.35},{"t":174468,"md_err":0.60},{"t":174471,"md_err":0.80},{"t":174473,"md_err":0.90},{"t":174476,"md_err":0.97},
{"t":174480,"md_err":0.09},{"t":174484,"md_err":0.18},{"t":174487,"md_err":0.27},{"t":174491,"md_err":0.36},{"t":174494,"md_err":0.41},{"t":174498,"md_err":0.48},{"t":174500,"md_err":0.54},{"t":174501,"md_err":0.50},{"t":174503,"md_err":0.27},{"t":174505,"md_err":0.18},{"t":174489,"md_err":0.15},{"t":174496,"md_err":0.25},
{"t":174510,"md_err":0.25},{"t":174521,"md_err":0.20},{"t":174530,"md_err":0.08},{"t":174560,"md_err":0.07},
{"t":174587,"md_err":0.20},{"t":174594,"md_err":0.45},{"t":174596,"md_err":0.52},{"t":174598,"md_err":0.36},{"t":174603,"md_err":0.27},{"t":174609,"md_err":0.41},{"t":174612,"md_err":0.47},{"t":174616,"md_err":0.50},{"t":174617,"md_err":0.36},{"t":174621,"md_err":0.27},{"t":174614,"md_err":0.18},{"t":174608,"md_err":0.13},{"t":174625,"md_err":0.34},{"t":174639,"md_err":0.45},{"t":174642,"md_err":0.36},{"t":174600,"md_err":0.15},{"t":174619,"md_err":0.10},
{"t":174607,"md_err":0.49},{"t":174614,"md_err":0.41},{"t":174620,"md_err":0.31},{"t":174612,"md_err":0.25},{"t":174623,"md_err":0.18},
{"t":174643,"md_err":0.31},{"t":174650,"md_err":0.25},{"t":174657,"md_err":0.20},{"t":174660,"md_err":0.27},{"t":174648,"md_err":0.12},
{"t":174678,"md_err":0.25},{"t":174685,"md_err":0.18},{"t":174692,"md_err":0.29},{"t":174700,"md_err":0.22},{"t":174706,"md_err":0.31},{"t":174714,"md_err":0.20},{"t":174717,"md_err":0.56},{"t":174714,"md_err":0.41},{"t":174711,"md_err":0.14},{"t":174721,"md_err":0.25},{"t":174728,"md_err":0.18},{"t":174735,"md_err":0.27},{"t":174738,"md_err":0.11},{"t":174695,"md_err":0.10},{"t":174703,"md_err":0.12},
{"t":174716,"md_err":0.50},{"t":174719,"md_err":0.59},{"t":174722,"md_err":0.52},
{"t":174740.5,"md_err":1.45},{"t":174747.7,"md_err":1.50},{"t":174738.7,"md_err":1.32},{"t":174745.9,"md_err":1.27},{"t":174738.7,"md_err":1.18},{"t":174744,"md_err":1.13},{"t":174740.5,"md_err":1.04},{"t":174742.3,"md_err":0.95},{"t":174740.5,"md_err":0.86},{"t":174738.7,"md_err":0.68},{"t":174756.6,"md_err":1.20},{"t":174739,"md_err":0.78},{"t":174742,"md_err":1.38},{"t":174743,"md_err":1.22},{"t":174741,"md_err":1.10},{"t":174738.4,"md_err":0.64},
{"t":174765.5,"md_err":1.13},{"t":174769.1,"md_err":1.27},{"t":174772.6,"md_err":1.41},{"t":174778,"md_err":1.50},{"t":174781.5,"md_err":1.45},{"t":174774.5,"md_err":1.23},{"t":174767.3,"md_err":1.36},{"t":174779.8,"md_err":1.32},{"t":174776,"md_err":1.18},{"t":174770,"md_err":1.15},{"t":174782,"md_err":1.30},{"t":174779,"md_err":1.40},{"t":174766,"md_err":1.08},{"t":174783,"md_err":1.38},
{"t":174760,"md_err":0.25},{"t":174765,"md_err":0.18},{"t":174770,"md_err":0.30},{"t":174775,"md_err":0.20},{"t":174757,"md_err":0.10},{"t":174780,"md_err":0.12},
{"t":174785.5,"md_err":0.50},{"t":174791.9,"md_err":0.45},{"t":174799.4,"md_err":0.50},{"t":174810.1,"md_err":0.45},{"t":174817.6,"md_err":0.41},{"t":174790.9,"md_err":0.27},{"t":174804.8,"md_err":0.31},{"t":174813.3,"md_err":0.20},{"t":174820.8,"md_err":0.27},{"t":174795,"md_err":0.18},{"t":174808,"md_err":0.12},{"t":174825,"md_err":0.15},
{"t":174836.9,"md_err":1.32},{"t":174835.1,"md_err":1.27},{"t":174833.4,"md_err":0.82},{"t":174833.4,"md_err":0.72},{"t":174831.6,"md_err":0.50},{"t":174832,"md_err":0.62},
{"t":174840.1,"md_err":0.45},{"t":174847.6,"md_err":0.41},{"t":174855.1,"md_err":0.48},{"t":174863.7,"md_err":0.41},{"t":174842.3,"md_err":0.18},{"t":174849.8,"md_err":0.27},{"t":174858.3,"md_err":0.11},{"t":174845,"md_err":0.30},{"t":174852,"md_err":0.20},{"t":174868,"md_err":0.15},
{"t":174874.4,"md_err":0.56},{"t":174885.1,"md_err":0.88},{"t":174887.8,"md_err":0.95},{"t":174890.5,"md_err":1.00},{"t":174893,"md_err":1.05},{"t":174895.8,"md_err":1.09},{"t":174899,"md_err":1.13},{"t":174886,"md_err":0.90},
{"t":174875,"md_err":0.10},{"t":174880,"md_err":0.20},{"t":174870,"md_err":0.30},{"t":174878,"md_err":0.08},
{"t":174922.6,"md_err":0.14},{"t":174925.8,"md_err":0.27},{"t":174930.1,"md_err":0.38},{"t":174935.4,"md_err":0.45},{"t":174940.8,"md_err":0.52},{"t":174946.2,"md_err":0.50},{"t":174949.4,"md_err":0.55},{"t":174954.7,"md_err":0.59},{"t":174957.9,"md_err":0.55},{"t":174928,"md_err":0.20},{"t":174933,"md_err":0.30},{"t":174938,"md_err":0.35},{"t":174944,"md_err":0.40},{"t":174950,"md_err":0.45},{"t":174915,"md_err":0.10},{"t":174905,"md_err":0.12},{"t":174895,"md_err":0.15},
{"t":174960.1,"md_err":0.08},{"t":174965.4,"md_err":0.18},{"t":174970.8,"md_err":0.25},{"t":174976.1,"md_err":0.31},{"t":174981.5,"md_err":0.38},{"t":174986.8,"md_err":0.42},{"t":174992.2,"md_err":0.45},{"t":174995.4,"md_err":0.50},{"t":175000.8,"md_err":0.38},{"t":175005,"md_err":0.27},{"t":175008.3,"md_err":0.18},{"t":174990.4,"md_err":0.04},{"t":174968,"md_err":0.10},{"t":174978,"md_err":0.20},{"t":174988,"md_err":0.30},{"t":174998,"md_err":0.44},{"t":174973,"md_err":0.15},{"t":174984,"md_err":0.35}
 ]},
 "transform": [{"fold": ["HPL_md", "md_err"], "as": ["series", "value"]}, {"filter": "isValid(datum.value)"}],
 "mark": {"type": "point", "filled": true, "opacity": 1, "strokeWidth": 0},
 "encoding": {
  "color": {"field": "series", "type": "nominal", "scale": {"domain": ["HPL_md", "md_err"], "range": ["#CC9900", "#2E3192"]},
   "legend": {"orient": "none", "legendX": 14, "legendY": -109, "title": null, "padding": 0, "labelFont": "Liberation Sans", "labelFontSize": 38, "labelColor": "#333333", "rowPadding": 26, "labelOffset": -3, "symbolSize": 36, "symbolStrokeWidth": 0}},
  "shape": {"field": "series", "type": "nominal", "scale": {"domain": ["HPL_md", "md_err"], "range": ["diamond", "circle"]}},
  "size": {"field": "series", "type": "nominal", "scale": {"domain": ["HPL_md", "md_err"], "range": [110, 120]}, "legend": null}
 }
},
{
 "data": {"values": [{"t": 174708.4, "value": 5.642, "s": "β = 1×"}]},
 "mark": {"type": "text", "font": "Liberation Serif", "fontSize": 44, "align": "left", "baseline": "alphabetic", "color": "#333333"},
 "encoding": {"text": {"field": "s"}}
},
{
 "data": {"values": [{"t": 174839, "value": 5.642, "s": "10"}]},
 "mark": {"type": "text", "font": "Liberation Sans", "fontSize": 42, "align": "left", "baseline": "alphabetic", "color": "#333333"},
 "encoding": {"text": {"field": "s"}}
},
{
 "data": {"values": [{"t": 174895.8, "value": 5.82, "s": "-4"}]},
 "mark": {"type": "text", "font": "Liberation Sans", "fontSize": 27, "align": "left", "baseline": "alphabetic", "color": "#333333"},
 "encoding": {"text": {"field": "s"}}
}
]
}
